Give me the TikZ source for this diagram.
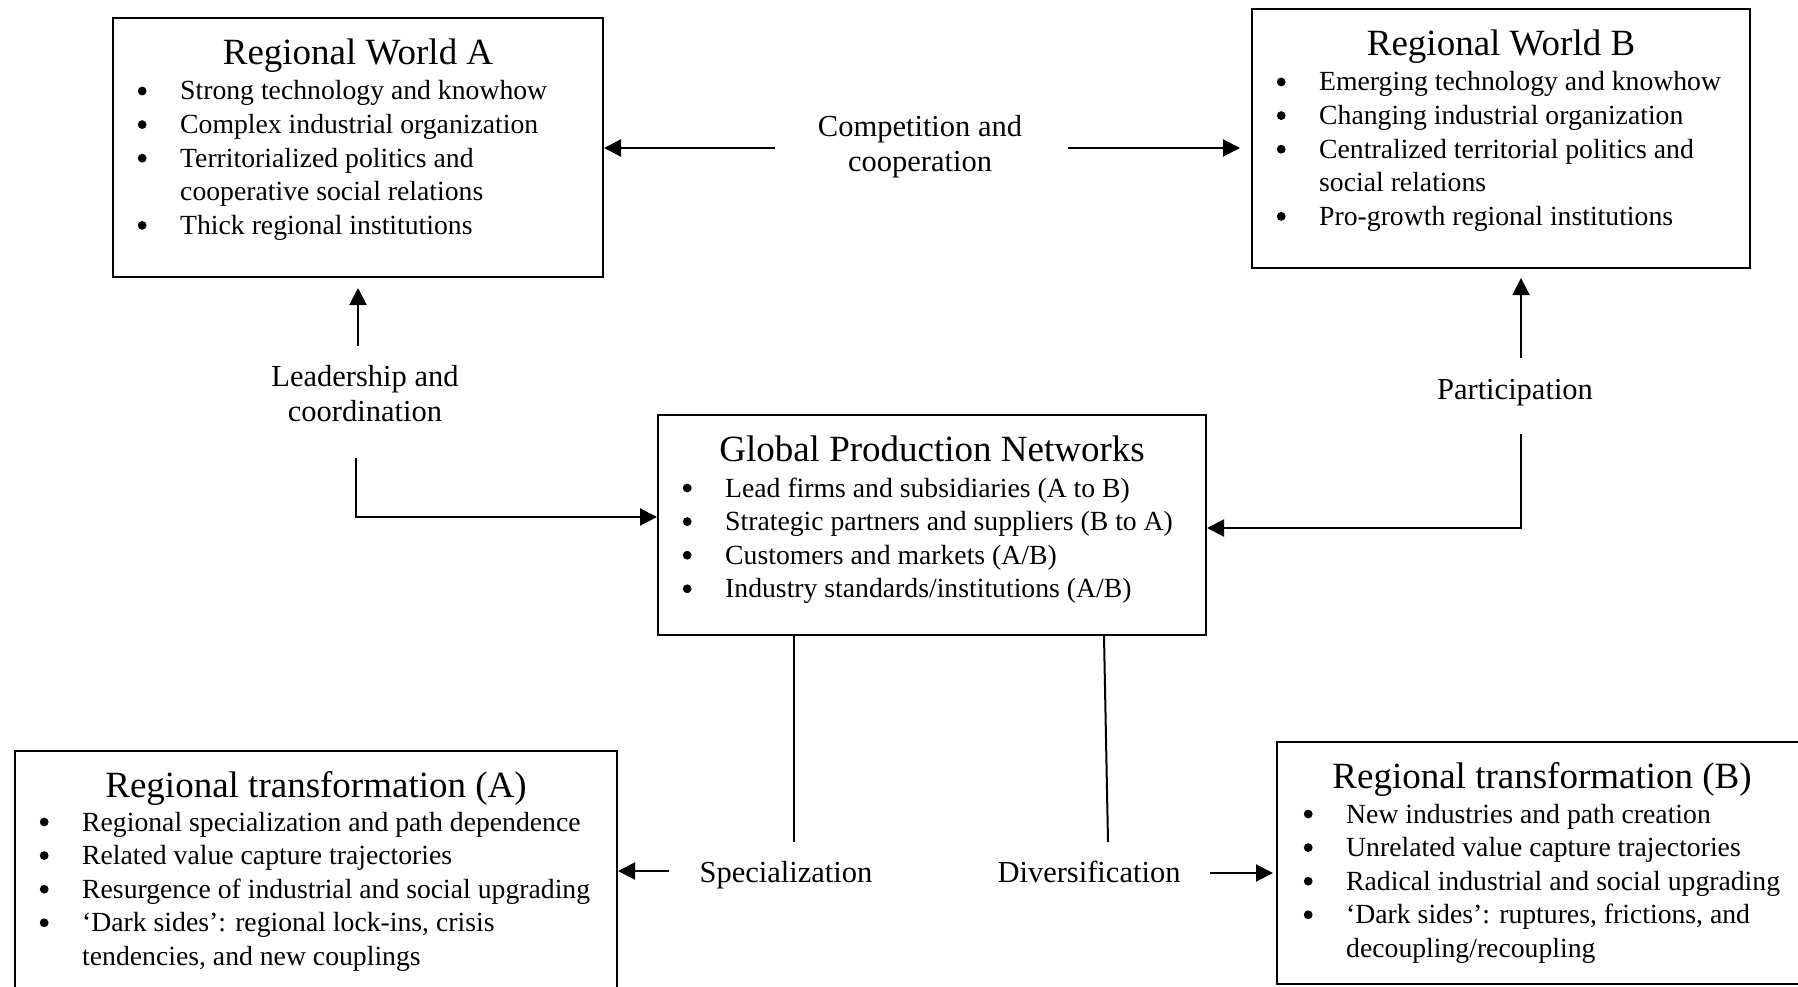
\documentclass[tikz,border=0pt]{standalone}
\usepackage{fontspec}
\setmainfont{Liberation Serif}
\usetikzlibrary{arrows.meta,calc}
\newcommand{\bl}{\llap{\tikz[baseline=0pt]\fill (0pt,9pt) circle[radius=4.4pt];\hspace{33.6pt}}}
\begin{document}
\begin{tikzpicture}[x=1pt,y=-1pt,
  box/.style={draw,line width=2pt,inner sep=0pt,anchor=north west},
  ttl/.style={inner sep=0pt,anchor=base,font=\fontsize{37}{44}\selectfont},
  lst/.style={inner sep=0pt,anchor=base west,font=\fontsize{27.7}{33.6}\selectfont},
  lbl/.style={inner sep=0pt,anchor=base,font=\fontsize{30.5}{35}\selectfont},
  arr/.style={line width=2pt,-{Triangle[length=17pt,width=17pt]}},
  ln/.style={line width=2pt}]
\useasboundingbox (0,0) rectangle (1798,987);
\fill[white] (0,0) rectangle (1798,987);

% boxes
\node[box,minimum width=490pt,minimum height=259pt] (A) at (112,17) {};
\node[box,minimum width=498pt,minimum height=259pt] (B) at (1251,8) {};
\node[box,minimum width=548pt,minimum height=220pt] (G) at (657,414) {};
\node[box,minimum width=602pt,minimum height=250pt] (RA) at (14,750) {};
\node[box,minimum width=530pt,minimum height=242pt] (RB) at (1276,741) {};

% titles
\node[ttl] (At) at ([yshift=-48pt]A.north) {Regional World A};
\node[ttl] (Bt) at ([yshift=-48pt]B.north) {Regional World B};
\node[ttl] (Gt) at ([yshift=-47pt]G.north) {Global Production Networks};
\node[ttl] (RAt) at ([yshift=-47pt]RA.north) {Regional transformation (A)};
\node[ttl] (RBt) at ([yshift=-47pt]RB.north) {Regional transformation (B)};

% lists
\node[lst] (Al) at (180,100) {\begin{tabular}[t]{@{}l@{}}
\bl Strong technology and knowhow\\
\bl Complex industrial organization\\
\bl Territorialized politics and\\
cooperative social relations\\
\bl Thick regional institutions
\end{tabular}};
\node[lst] (Bl) at (1319,91) {\begin{tabular}[t]{@{}l@{}}
\bl Emerging technology and knowhow\\
\bl Changing industrial organization\\
\bl Centralized territorial politics and\\
social relations\\
\bl Pro-growth regional institutions
\end{tabular}};
\node[lst] (Gl) at (725,497) {\begin{tabular}[t]{@{}l@{}}
\bl Lead firms and subsidiaries (A to B)\\
\bl Strategic partners and suppliers (B to A)\\
\bl Customers and markets (A/B)\\
\bl Industry standards/institutions (A/B)
\end{tabular}};
\node[lst] (RAl) at (82,831) {\begin{tabular}[t]{@{}l@{}}
\bl Regional specialization and path dependence\\
\bl Related value capture trajectories\\
\bl Resurgence of industrial and social upgrading\\
\bl `Dark sides': regional lock-ins, crisis\\
tendencies, and new couplings
\end{tabular}};
\node[lst] (RBl) at (1346,823) {\begin{tabular}[t]{@{}l@{}}
\bl New industries and path creation\\
\bl Unrelated value capture trajectories\\
\bl Radical industrial and social upgrading\\
\bl `Dark sides': ruptures, frictions, and\\
decoupling/recoupling
\end{tabular}};

% labels
\node[lbl] (comp) at (920,137) {\begin{tabular}[t]{@{}c@{}}Competition and\\cooperation\end{tabular}};
\node[lbl] (lead) at (365,386) {\begin{tabular}[t]{@{}c@{}}Leadership and\\coordination\end{tabular}};
\node[lbl] (part) at (1515,399) {Participation};
\node[lbl] (spec) at (786,882) {Specialization};
\node[lbl] (div) at (1089,882) {Diversification};

% connector free ends
\coordinate (compL) at (775,148);
\coordinate (compR) at (1068,148);
\coordinate (leadU) at (358,346);
\coordinate (leadD) at (356,458);
\coordinate (leadC) at (356,517);
\coordinate (partU) at (1521,358);
\coordinate (partD) at (1521,434);
\coordinate (partC) at (1521,528);
\coordinate (specT) at (794,842);
\coordinate (divT) at (1108,842);
\coordinate (specA) at (669,871);
\coordinate (divA) at (1210,873);

% connectors
\draw[arr] (compL) -- (A.east |- compL);
\draw[arr] (compR) -- ([xshift=-11pt]B.west |- compR);
\draw[arr] (leadU) -- ([yshift=-10pt]leadU |- A.south);
\draw[arr] (leadD) -- (leadC) -- (G.west |- leadC);
\draw[arr] (partU) -- ([yshift=-9pt]partU |- B.south);
\draw[arr] (partD) -- (partC) -- (G.east |- partC);
\draw[ln] ([xshift=-138pt]G.south) -- (specT);
\draw[ln] ([xshift=172pt]G.south) -- (divT);
\draw[arr] (specA) -- (RA.east |- specA);
\draw[arr] (divA) -- ([xshift=-3pt]RB.west |- divA);
\end{tikzpicture}
\end{document}
